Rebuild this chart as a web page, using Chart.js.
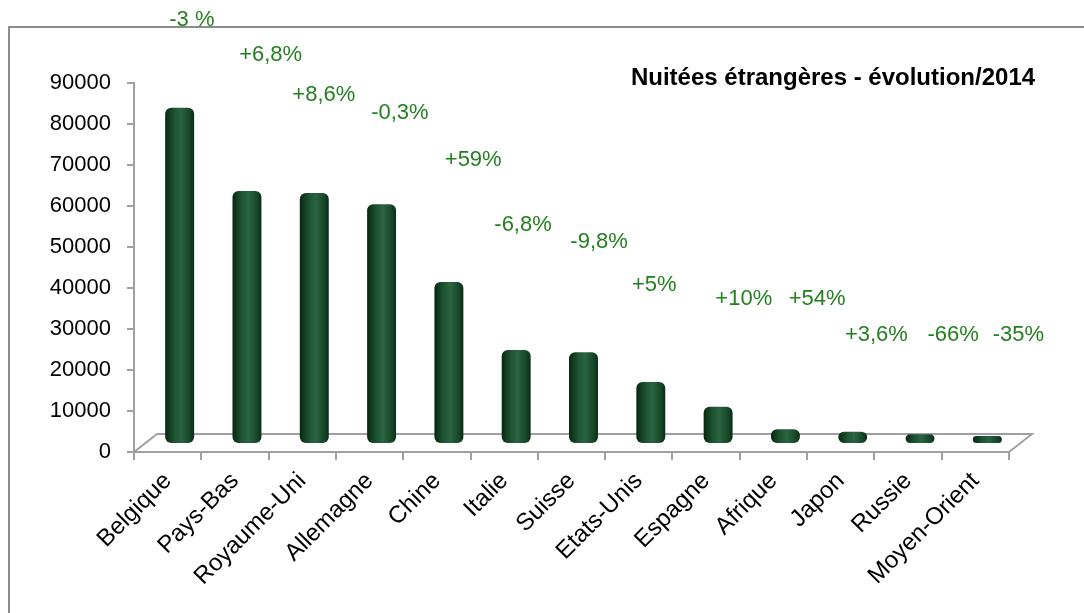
<!DOCTYPE html>
<html>
<head>
<meta charset="utf-8">
<title>Nuitées étrangères</title>
<script src="https://cdn.jsdelivr.net/npm/chart.js@4.4.1/dist/chart.umd.min.js"></script>
<style>
    body { margin: 0; background: #fff; }
    canvas { display: block; }
</style>
</head>
<body>
<canvas id="nuiteesChart" width="1084" height="613"></canvas>
<script>
// données
const pays = ['Belgique', 'Pays-Bas', 'Royaume-Uni', 'Allemagne', 'Chine', 'Italie', 'Suisse',
    'Etats-Unis', 'Espagne', 'Afrique', 'Japon', 'Russie', 'Moyen-Orient'];
const nuitees = [82000, 61700, 61200, 58500, 39500, 22900, 22400, 15100, 9100, 3600, 3000, 2400, 1950];
const evolution = ['-3 %', '+6,8%', '+8,6%', '-0,3%', '+59%', '-6,8%', '-9,8%', '+5%', '+10%', '+54%',
    '+3,6%', '-66%', '-35%'];
const yMax = 90000;
const yStep = 10000;

// placement des étiquettes d'évolution (décalage en catégories, hauteur en unités de l'axe)
const evoShift = [0.36, 0.53, 0.32, 0.45, 0.54, 0.28, 0.41, 0.23, 0.56, 0.65, 0.53, 0.67, 0.64];
const evoLevel = [105500, 96800, 87100, 82700, 71200, 55400, 51200, 40700, 37300, 37300, 28500, 28500, 28500];

const FONT = "'Liberation Sans', Arial, sans-serif";
const DEPTH = { dx: 23, dy: -18 };   // profondeur du plancher 3D
const BAR_SHIFT = { dx: 12, dy: -8 }; // les cylindres sont au milieu de la profondeur

function cylinderFill(ctx) {
    const chart = ctx.chart;
    const x = chart.scales.x;
    if (!x || ctx.dataIndex === undefined) return '#1b4a2a';
    const cx = x.getPixelForValue(ctx.dataIndex);
    const w = (x.right - x.left) / pays.length * 0.43;
    if (!Number.isFinite(cx) || !Number.isFinite(w) || w <= 0) return '#1b4a2a';
    const g = chart.ctx.createLinearGradient(cx - w / 2, 0, cx + w / 2, 0);
    g.addColorStop(0, '#07260f');
    g.addColorStop(0.3, '#1d5230');
    g.addColorStop(0.55, '#2a6440');
    g.addColorStop(0.85, '#174628');
    g.addColorStop(1, '#0a2c14');
    return g;
}

const decor = {
    id: 'decor',
    beforeDatasetsDraw(chart) {
        const { ctx, chartArea: a } = chart;
        ctx.save();
        ctx.strokeStyle = '#a0a0a0';
        ctx.lineWidth = 2;
        ctx.beginPath();
        ctx.moveTo(a.left, a.bottom);
        ctx.lineTo(a.left + DEPTH.dx, a.bottom + DEPTH.dy);
        ctx.lineTo(a.right + DEPTH.dx, a.bottom + DEPTH.dy);
        ctx.lineTo(a.right, a.bottom);
        ctx.stroke();
        ctx.restore();
        ctx.save();
        ctx.translate(BAR_SHIFT.dx, BAR_SHIFT.dy);
    },
    afterDatasetsDraw(chart) {
        chart.ctx.restore();
    },
    afterDraw(chart) {
        const { ctx, scales } = chart;
        ctx.save();
        // cadre
        ctx.strokeStyle = '#8c8c8c';
        ctx.lineWidth = 2;
        ctx.beginPath();
        ctx.moveTo(9, 613);
        ctx.lineTo(9, 27);
        ctx.lineTo(1084, 27);
        ctx.stroke();

        // titre
        ctx.fillStyle = '#000';
        ctx.font = 'bold 24px ' + FONT;
        ctx.textAlign = 'center';
        ctx.textBaseline = 'middle';
        ctx.fillText('Nuitées étrangères - évolution/2014', 833, 78);

        // évolutions
        ctx.fillStyle = '#23801f';
        ctx.font = '22px ' + FONT;
        evolution.forEach((t, i) => {
            const x = scales.x.getPixelForValue(i) + evoShift[i] * (scales.x.right - scales.x.left) / pays.length;
            const y = scales.y.getPixelForValue(evoLevel[i]);
            ctx.fillText(t, x, y);
        });
        ctx.restore();
    }
};

new Chart(document.getElementById('nuiteesChart'), {
    type: 'bar',
    data: {
        labels: pays,
        datasets: [{
            label: 'Nuitées',
            data: nuitees,
            backgroundColor: cylinderFill,
            borderRadius: 6,
            borderSkipped: false,
            barPercentage: 0.43,
            categoryPercentage: 1
        }]
    },
    options: {
        responsive: false,
        animation: false,
        layout: {
            padding: { top: 83, right: 75, left: 0, bottom: 0 }
        },
        plugins: {
            legend: { display: false },
            tooltip: { enabled: false }
        },
        scales: {
            x: {
                afterFit(scale) { scale.height = 161; },
                border: { color: '#a0a0a0', width: 2 },
                grid: {
                    drawOnChartArea: false,
                    offset: true,
                    tickLength: 8,
                    color: '#a0a0a0',
                    lineWidth: 2
                },
                ticks: {
                    color: '#000',
                    font: { family: FONT, size: 24 },
                    minRotation: 45,
                    maxRotation: 45,
                    autoSkip: false,
                    padding: 7
                }
            },
            y: {
                min: 0,
                max: yMax,
                afterFit(scale) { scale.width = 134; },
                border: { color: '#a0a0a0', width: 2 },
                grid: {
                    drawOnChartArea: false,
                    tickLength: 7,
                    color: '#a0a0a0',
                    lineWidth: 2
                },
                ticks: {
                    stepSize: yStep,
                    color: '#000',
                    font: { family: FONT, size: 22 },
                    padding: 16,
                    callback: function(value) {
                        return String(value);
                    }
                }
            }
        }
    },
    plugins: [decor]
});
</script>
</body>
</html>
